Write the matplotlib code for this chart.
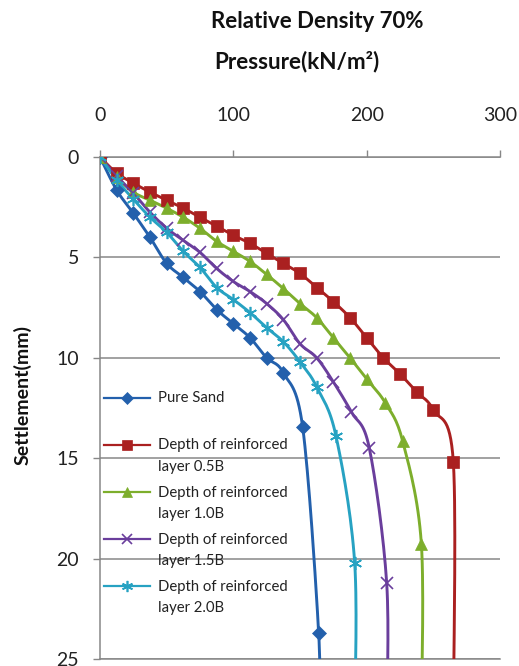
import numpy as np
import matplotlib
matplotlib.use("Agg")
import matplotlib.pyplot as plt
from matplotlib.legend_handler import HandlerLine2D

plt.rcParams['font.family'] = ['Lato', 'DejaVu Sans']

# pressure (kN/m2) and settlement (mm) readings for each test
pure_sand_p = [0, 12.5, 25, 37.5, 50, 62.5, 75, 87.5, 100, 112.5, 125, 137.5, 152, 164]
pure_sand_s = [0, 1.65, 2.8, 4.0, 5.3, 6.0, 6.7, 7.6, 8.3, 9.0, 10.0, 10.75, 13.45, 23.7]

depth_05b_p = [0, 12.5, 25, 37.5, 50, 62.5, 75, 87.5, 100, 112.5, 125, 137.5, 150,
               162.5, 175, 187.5, 200, 212.5, 225, 237.5, 250, 265]
depth_05b_s = [0, 0.8, 1.3, 1.75, 2.15, 2.55, 3.0, 3.45, 3.9, 4.3, 4.8, 5.3, 5.8,
               6.5, 7.2, 8.0, 9.0, 10.0, 10.8, 11.7, 12.6, 15.2]

depth_10b_p = [0, 12.5, 25, 37.5, 50, 62.5, 75, 87.5, 100, 112.5, 125, 137.5, 150,
               162.5, 175, 187.5, 200, 214, 227, 241]
depth_10b_s = [0, 1.0, 1.75, 2.15, 2.55, 3.0, 3.55, 4.2, 4.7, 5.2, 5.85, 6.55, 7.3,
               8.0, 9.0, 10.0, 11.05, 12.25, 14.15, 19.25]

depth_15b_p = [0, 12.5, 25, 37.5, 50, 62.5, 75, 87.5, 100, 112.5, 125, 137.5, 150,
               162.5, 175, 188.5, 202, 215]
depth_15b_s = [0, 0.95, 1.8, 2.75, 3.55, 4.15, 4.75, 5.55, 6.2, 6.7, 7.3, 8.1, 9.3,
               10.0, 11.2, 12.7, 14.5, 21.2]

depth_20b_p = [0, 12.5, 25, 37.5, 50, 62.5, 75, 87.5, 100, 112.5, 125, 137.5, 150,
               162.5, 177, 191]
depth_20b_s = [0, 1.15, 2.1, 3.0, 3.75, 4.7, 5.5, 6.5, 7.1, 7.75, 8.5, 9.2, 10.2,
               11.45, 13.9, 20.2]

labels = ["Pure Sand\n",
          "Depth of reinforced\nlayer 0.5B",
          "Depth of reinforced\nlayer 1.0B",
          "Depth of reinforced\nlayer 1.5B",
          "Depth of reinforced\nlayer 2.0B"]
colors = ['#2360AC', '#AA2020', '#7DAE2C', '#6A3E9C', '#27A2C2']
markers = ['D', 's', '^', 'x', (6, 2, 0)]
msizes = [7, 9, 9, 8.5, 9.5]

# curves run on past the bottom of the axis
tail_depth = 28


def smooth(x, y, n=16):
    # Catmull-Rom curve through the readings, like a smoothed spreadsheet line
    pts = np.column_stack([x, y]).astype(float)
    pts = np.vstack([pts[0], pts, pts[-1]])
    out = []
    t = np.linspace(0, 1, n, endpoint=False)[:, None]
    for i in range(1, len(pts) - 2):
        p0, p1, p2, p3 = pts[i - 1], pts[i], pts[i + 1], pts[i + 2]
        seg = 0.5 * ((2 * p1) + (-p0 + p2) * t + (2 * p0 - 5 * p1 + 4 * p2 - p3) * t ** 2
                     + (-p0 + 3 * p1 - 3 * p2 + p3) * t ** 3)
        out.append(seg)
    out.append(pts[-2][None, :])
    out = np.vstack(out)
    return out[:, 0], out[:, 1]


class FirstLineHandler(HandlerLine2D):
    # keep the legend sample level with the first line of a two-line label
    def __init__(self, shift, **kw):
        super().__init__(**kw)
        self.shift = shift

    def create_artists(self, legend, orig_handle, xdescent, ydescent, width,
                       height, fontsize, trans):
        arts = super().create_artists(legend, orig_handle, xdescent, ydescent,
                                      width, height, fontsize, trans)
        for a in arts:
            a.set_ydata(np.asarray(a.get_ydata(), dtype=float) + self.shift)
        return arts


series = [(pure_sand_p, pure_sand_s), (depth_05b_p, depth_05b_s),
          (depth_10b_p, depth_10b_s), (depth_15b_p, depth_15b_s),
          (depth_20b_p, depth_20b_s)]

fig = plt.figure(figsize=(5.19, 6.66), dpi=100)
ax = fig.add_axes([100 / 519, 7 / 666, 400 / 519, 502 / 666])

grid_col = '#878787'
handles = []
for (p, s), c, m, ms, lab in zip(series, colors, markers, msizes, labels):
    xs, ys = smooth(list(p) + [p[-1]], list(s) + [tail_depth])
    ax.plot(xs, ys, color=c, lw=2.1, zorder=3)
    mew = 1.2 if m in ('x', (6, 2, 0)) else 0.5
    ax.plot(p, s, ls='none', marker=m, ms=ms, color=c, mec=c, mew=mew, zorder=4)
    h, = ax.plot([], [], color=c, lw=1.6, marker=m, ms=ms * 0.85, mec=c, mew=mew,
                 label=lab)
    handles.append(h)

ax.set_xlim(0, 300)
ax.set_ylim(25, 0)
ax.xaxis.tick_top()
ax.set_xticks([0, 100, 200, 300])
ax.set_yticks([0, 5, 10, 15, 20, 25])
ax.tick_params(axis='x', direction='out', length=5, width=1, color=grid_col,
               labelsize=14, pad=19, labelcolor='#222222')
ax.tick_params(axis='y', direction='out', length=5, width=1, color=grid_col,
               labelsize=14, pad=10, labelcolor='#222222')
ax.yaxis.grid(True, color=grid_col, lw=1.1)
ax.set_axisbelow(True)
ax.spines['right'].set_visible(False)
for side in ('top', 'left', 'bottom'):
    ax.spines[side].set_color(grid_col)
    ax.spines[side].set_linewidth(1.1)

leg = ax.legend(handles=handles, loc='upper left', bbox_to_anchor=(0.01, 0.533),
                frameon=False, fontsize=10.7, handlelength=3.1, handletextpad=0.5,
                labelspacing=0.8, borderaxespad=0, borderpad=0,
                handler_map={h: FirstLineHandler(8.3) for h in handles})
for t in leg.get_texts():
    t.set_linespacing(1.65)
    t.set_color('#222222')

fig.text(317 / 519, 1 - 22 / 666, "Relative Density 70%", ha='center', va='center',
         fontsize=16, fontweight='bold', color='#111111')
fig.text(297 / 519, 1 - 62 / 666, "Pressure(kN/m²)", ha='center', va='center',
         fontsize=16.2, fontweight='bold', color='#111111')
fig.text(23 / 519, 1 - 395 / 666, "Settlement(mm)", ha='center', va='center',
         rotation=90, fontsize=14, fontweight='bold', color='#111111')

fig.savefig('out.png', dpi=100)
